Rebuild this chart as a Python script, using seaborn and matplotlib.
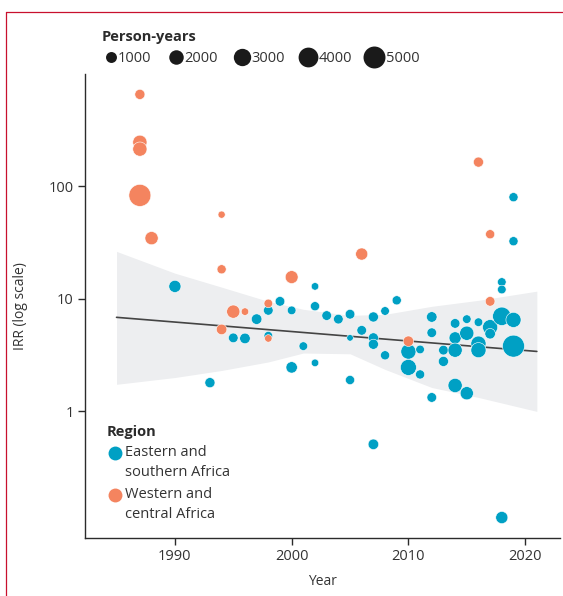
import numpy as np
import pandas as pd
import seaborn as sns
import matplotlib.pyplot as plt
from matplotlib.lines import Line2D
from matplotlib.legend_handler import HandlerLine2D
from matplotlib.ticker import NullLocator

# eastern and southern Africa studies: year, IRR, person-years
esa_year = [1990, 1993, 1995, 1996, 1997, 1998, 1998, 1999, 2000, 2000,
            2001, 2002, 2002, 2002, 2003, 2004, 2005, 2005, 2005, 2006,
            2007, 2007, 2007, 2007, 2008, 2008, 2009, 2010, 2010, 2011,
            2011, 2012, 2012, 2012, 2013, 2013, 2014, 2014, 2014, 2014,
            2015, 2015, 2015, 2016, 2016, 2016, 2017, 2017, 2018, 2018,
            2018, 2018, 2019, 2019, 2019, 2019]
esa_irr = [12.9, 1.8, 4.5, 4.45, 6.6, 7.9, 4.7, 9.5, 7.9, 2.46,
           3.8, 12.9, 8.6, 2.7, 7.1, 6.6, 7.3, 4.5, 1.9, 5.25,
           6.9, 4.5, 3.95, 0.51, 7.8, 3.15, 9.7, 3.4, 2.46, 3.55,
           2.13, 6.9, 5.0, 1.33, 3.5, 2.78, 6.05, 4.5, 3.5, 1.7,
           6.6, 4.95, 1.45, 6.2, 4.0, 3.5, 5.6, 4.9, 7.0, 14.1,
           12.1, 0.114, 6.5, 3.8, 80, 32.5]
esa_py = [1300, 800, 700, 900, 900, 700, 500, 700, 500, 1100,
          500, 300, 600, 300, 700, 700, 700, 150, 600, 700,
          800, 800, 800, 900, 500, 600, 600, 2200, 2500, 500,
          600, 900, 700, 700, 700, 800, 700, 1300, 1900, 1900,
          500, 1900, 1600, 500, 2200, 2200, 2200, 900, 3400, 500,
          500, 1300, 2200, 5200, 600, 600]

# western and central Africa studies
wca_year = [1987, 1987, 1987, 1987, 1988, 1994, 1994, 1994, 1995, 1996,
            1998, 1998, 2000, 2006, 2010, 2016, 2017, 2017]
wca_irr = [655, 246, 214, 83, 34.6, 56, 18.3, 5.35, 7.7, 7.7,
           9.1, 4.45, 15.6, 25, 4.2, 164, 37.5, 9.5]
wca_py = [800, 1900, 1900, 6300, 1600, 250, 600, 900, 1600, 300,
          500, 300, 1500, 1300, 900, 800, 600, 700]

# meta-regression line and 95% CI band
fit_year = [1985, 2021]
fit_irr = [6.85, 3.41]
band_year = [1985, 1990, 1994, 1998, 2001, 2005, 2008, 2012, 2016, 2021]
band_hi = [26.4, 16.9, 12.7, 9.5, 8.07, 7.13, 7.28, 8.58, 9.7, 11.7]
band_lo = [1.74, 2.0, 2.31, 2.75, 3.3, 3.25, 2.36, 1.63, 1.33, 1.0]

legend_py = [1000, 2000, 3000, 4000, 5000]
regions = ['Eastern and southern Africa', 'Western and central Africa']

df = pd.DataFrame({
    'year': esa_year + wca_year,
    'irr': esa_irr + wca_irr,
    'py': esa_py + wca_py,
    'region': [regions[0]] * len(esa_year) + [regions[1]] * len(wca_year),
})

blue = '#00A0C4'
orange = '#F4845F'
ink = '#2b2b2b'
SMIN, SMAX, PYMAX = 15, 250, 5000


class MarkerHandler(HandlerLine2D):
    """legend marker that can hug the label or sit on the first text line"""
    def __init__(self, hug=False, lift=0.0, **kw):
        super().__init__(**kw)
        self.hug = hug
        self.lift = lift

    def create_artists(self, legend, orig_handle, xdescent, ydescent,
                       width, height, fontsize, trans):
        arts = super().create_artists(legend, orig_handle, xdescent, ydescent,
                                      width, height, fontsize, trans)
        for a in arts:
            x = np.asarray(a.get_xdata(), dtype=float)
            y = np.asarray(a.get_ydata(), dtype=float)
            if self.hug:
                x = np.full_like(x, width - xdescent - orig_handle.get_markersize() / 2)
            a.set_data(x, y + self.lift * fontsize)
        return arts


sns.set_style('ticks')
plt.rcParams['font.family'] = ['Open Sans', 'DejaVu Sans']

fig = plt.figure(figsize=(5.63, 5.96), dpi=100)
ax = fig.add_axes([0.151, 0.0973, 0.844, 0.779])

ax.fill_between(band_year, band_lo, band_hi, color='#EDEEF0', lw=0, zorder=1)
sns.lineplot(x=fit_year, y=fit_irr, color='#444444', lw=1.2, ax=ax, zorder=2)
sns.scatterplot(data=df, x='year', y='irr', hue='region', hue_order=regions,
                palette=[blue, orange], size='py', sizes=(SMIN, SMAX),
                size_norm=(0, PYMAX), edgecolor='white', linewidth=0.4,
                alpha=1, legend=False, ax=ax, zorder=3)

ax.set_yscale('log')
ax.set_ylim(0.075, 1000)
ax.set_xlim(1982.3, 2023)
ax.set_yticks([1, 10, 100])
ax.set_yticklabels(['1', '10', '100'])
ax.yaxis.set_minor_locator(NullLocator())
ax.set_xticks([1990, 2000, 2010, 2020])
sns.despine(ax=ax)
for s in ['left', 'bottom']:
    ax.spines[s].set_color(ink)
    ax.spines[s].set_linewidth(1.0)
ax.tick_params(direction='out', length=5, width=1, color=ink,
               labelcolor='#333333', labelsize=10.5, pad=3)
ax.set_xlabel('Year', fontsize=10, color='#333333', labelpad=7)
ax.set_ylabel('IRR (log scale)', fontsize=10, color='#333333', labelpad=15)

# region legend
reg_handles = [Line2D([], [], marker='o', ls='', color=c, markersize=10,
                      markeredgewidth=0) for c in [blue, orange]]
leg = ax.legend(reg_handles, ['Eastern and\nsouthern Africa', 'Western and\ncentral Africa'],
                title='Region', loc='lower left', bbox_to_anchor=(0.014, 0.004),
                frameon=False, alignment='left', fontsize=10.5,
                title_fontproperties={'weight': 'bold', 'size': 10.5},
                handletextpad=0.1, labelspacing=0.45, handlelength=1.2,
                borderaxespad=0.6,
                handler_map={Line2D: MarkerHandler(lift=0.68)})
for t in leg.get_texts():
    t.set_color('#333333')
    t.set_linespacing(1.45)
leg.get_title().set_color(ink)
leg.get_title().set_fontweight('bold')

# person-years legend
py_handles = [Line2D([], [], marker='o', ls='', color='#1a1a1a', markeredgewidth=0,
                     markersize=np.sqrt(SMIN + p / PYMAX * (SMAX - SMIN)))
              for p in legend_py]
leg2 = fig.legend(py_handles, [str(p) for p in legend_py], title='Person-years',
                  ncol=5, loc='upper left', bbox_to_anchor=(0.158, 0.972),
                  frameon=False, alignment='left', fontsize=10.5,
                  title_fontproperties={'weight': 'bold', 'size': 10.5},
                  handletextpad=0.05, columnspacing=1.25, handlelength=1.0,
                  handler_map={Line2D: MarkerHandler(hug=True)})
for t in leg2.get_texts():
    t.set_color('#333333')
leg2.get_title().set_color(ink)
leg2.get_title().set_fontweight('bold')

# crimson frame
fig.add_artist(Line2D([6 / 563, 1], [1 - 12 / 596] * 2, transform=fig.transFigure,
                      color='#C8102E', lw=0.9))
fig.add_artist(Line2D([6 / 563] * 2, [0, 1 - 12 / 596], transform=fig.transFigure,
                      color='#C8102E', lw=0.9))

fig.savefig('out.png', dpi=100)
